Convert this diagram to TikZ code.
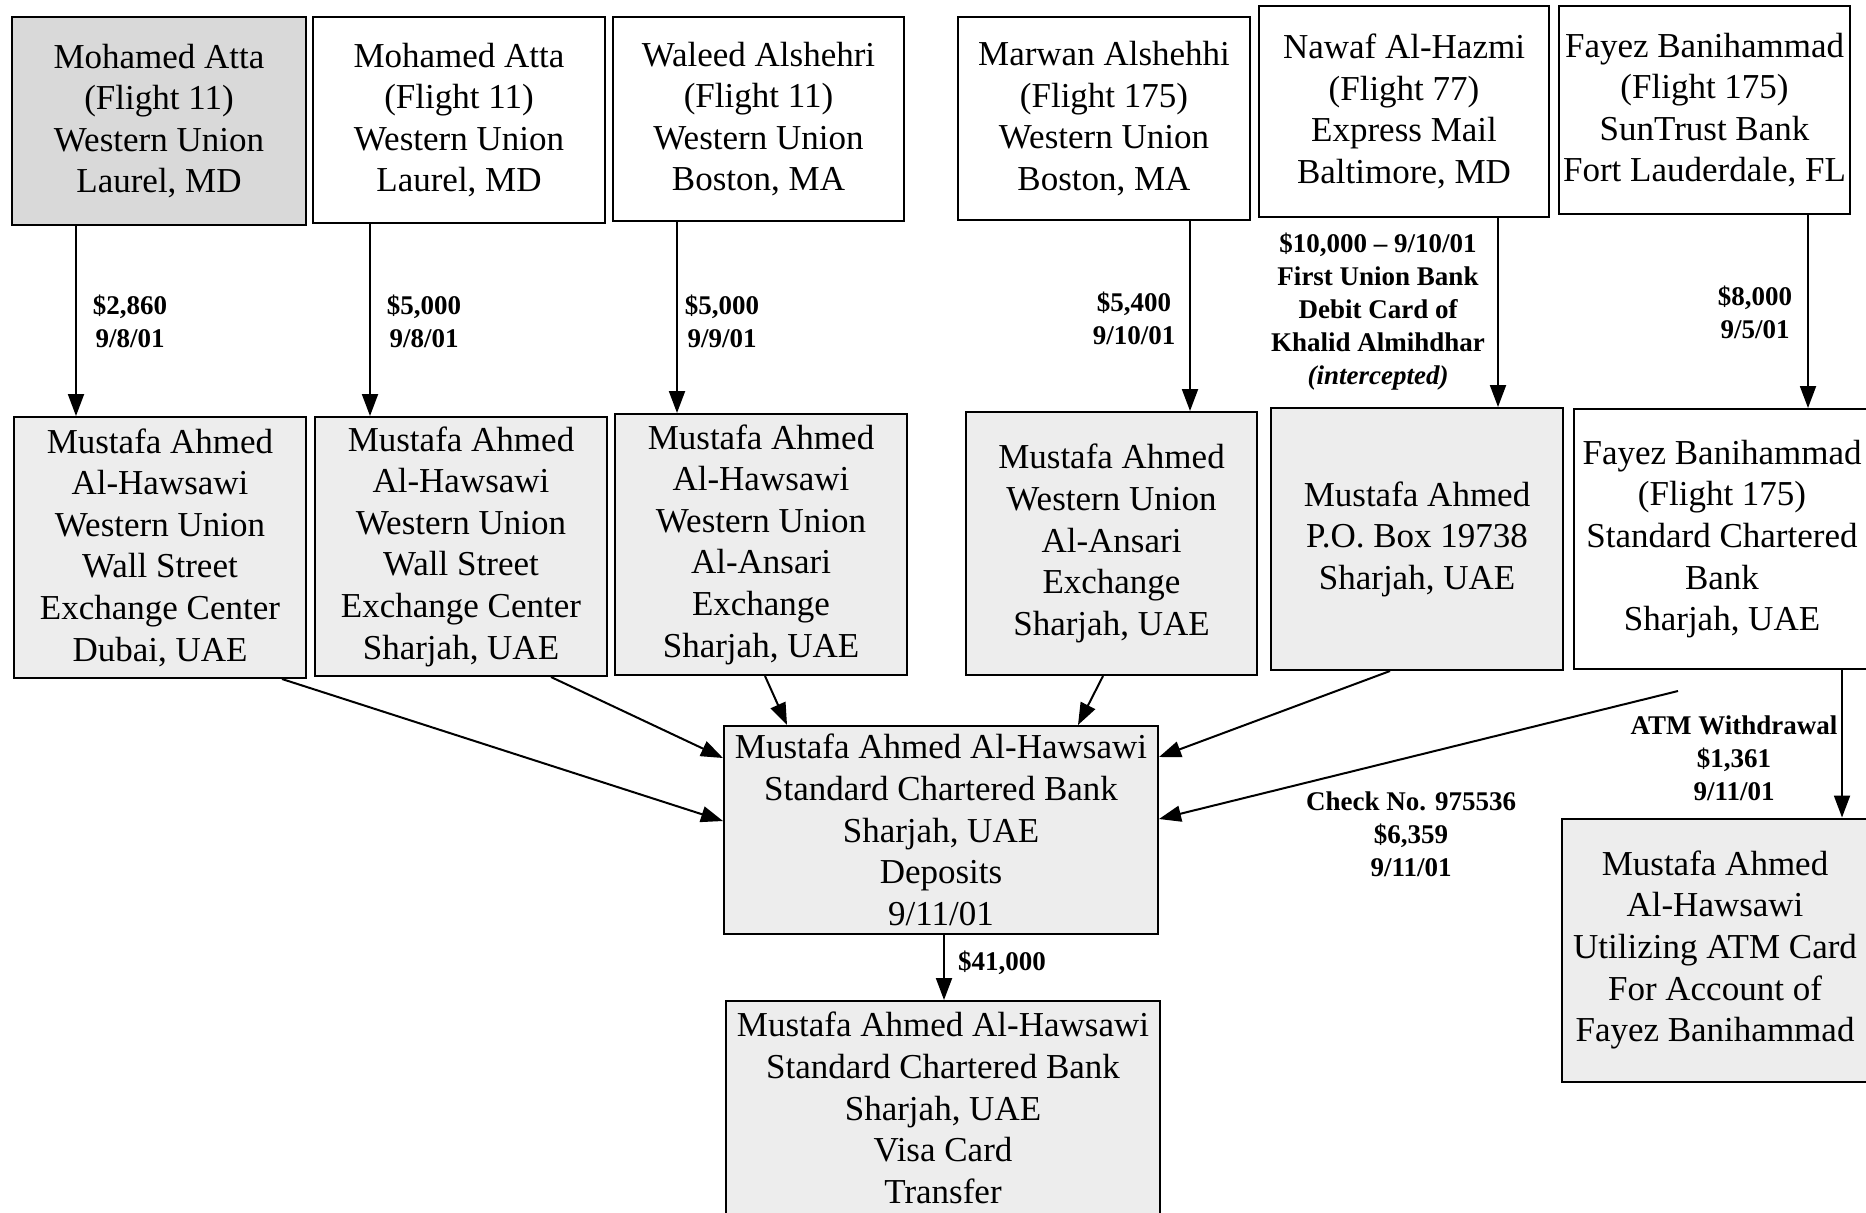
\documentclass[tikz,border=0pt]{standalone}
\usepackage{fontspec}
\setmainfont{Liberation Serif}
\usetikzlibrary{arrows.meta}
\begin{document}
\begin{tikzpicture}[x=0.5pt,y=-0.5pt,
  box/.style={draw,line width=1pt,align=center,inner sep=0pt,font=\fontsize{17.5}{20.8}\selectfont},
  speck/.style={box,fill=gray!14},
  dark/.style={box,fill=gray!30},
  lbl/.style={align=center,inner sep=0pt,font=\fontsize{13.5}{16.5}\selectfont\bfseries},
  flow/.style={line width=1pt,-{Triangle[length=11pt,width=8pt]}}]
\useasboundingbox (0,0) rectangle (1866,1212);
\node[dark,minimum width=147pt,minimum height=104pt] (A1) at (159,121) {Mohamed Atta\\(Flight 11)\\Western Union\\Laurel, MD};
\node[box,minimum width=146pt,minimum height=103pt] (A2) at (459,120) {Mohamed Atta\\(Flight 11)\\Western Union\\Laurel, MD};
\node[box,minimum width=145.5pt,minimum height=102pt] (A3) at (758.5,119) {Waleed Alshehri\\(Flight 11)\\Western Union\\Boston, MA};
\node[box,minimum width=146pt,minimum height=101.5pt] (A4) at (1104,118.5) {Marwan Alshehhi\\(Flight 175)\\Western Union\\Boston, MA};
\node[box,minimum width=145pt,minimum height=105.5pt] (A5) at (1404,111.5) {Nawaf Al-Hazmi\\(Flight 77)\\Express Mail\\Baltimore, MD};
\node[box,minimum width=145.5pt,minimum height=104pt] (A6) at (1704.5,110) {Fayez Banihammad\\(Flight 175)\\SunTrust Bank\\Fort Lauderdale, FL};
\node[speck,minimum width=146pt,minimum height=130.5pt] (B1) at (160,547.5) {Mustafa Ahmed\\Al-Hawsawi\\Western Union\\Wall Street\\Exchange Center\\Dubai, UAE};
\node[speck,minimum width=146pt,minimum height=129.5pt] (B2) at (461,546.5) {Mustafa Ahmed\\Al-Hawsawi\\Western Union\\Wall Street\\Exchange Center\\Sharjah, UAE};
\node[speck,minimum width=146pt,minimum height=130.5pt] (B3) at (761,544.5) {Mustafa Ahmed\\Al-Hawsawi\\Western Union\\Al-Ansari\\Exchange\\Sharjah, UAE};
\node[speck,minimum width=145.5pt,minimum height=131.5pt] (B4) at (1111.5,543.5) {Mustafa Ahmed\\Western Union\\Al-Ansari\\Exchange\\Sharjah, UAE};
\node[speck,minimum width=146pt,minimum height=131pt] (B5) at (1417,539) {Mustafa Ahmed\\P.O. Box 19738\\Sharjah, UAE};
\node[box,minimum width=148pt,minimum height=130pt] (B6) at (1722,539) {Fayez Banihammad\\(Flight 175)\\Standard Chartered\\Bank\\Sharjah, UAE};
\node[speck,minimum width=217pt,minimum height=104pt] (C) at (941,830) {Mustafa Ahmed Al-Hawsawi\\Standard Chartered Bank\\Sharjah, UAE\\Deposits\\9/11/01};
\node[speck,minimum width=217pt,minimum height=107pt] (D) at (943,1108) {Mustafa Ahmed Al-Hawsawi\\Standard Chartered Bank\\Sharjah, UAE\\Visa Card\\Transfer};
\node[speck,minimum width=153pt,minimum height=131.5pt] (E) at (1715,950) {Mustafa Ahmed\\Al-Hawsawi\\Utilizing ATM Card\\For Account of\\Fayez Banihammad};
\node[lbl] (l1) at (130,321) {\$2,860\\9/8/01};
\node[lbl] (l2) at (424,321) {\$5,000\\9/8/01};
\node[lbl] (l3) at (722,321) {\$5,000\\9/9/01};
\node[lbl] (l4) at (1134,318) {\$5,400\\9/10/01};
\node[lbl] (l5) at (1378,312) {\$10,000 \textendash{} 9/10/01\\First Union Bank\\Debit Card of\\Khalid Almihdhar\\\textit{(intercepted)}};
\node[lbl] (l6) at (1755,312) {\$8,000\\9/5/01};
\node[lbl] (l7) at (1734,758) {ATM Withdrawal\\\$1,361\\9/11/01};
\node[lbl] (l8) at (1411,834) {Check No. 975536\\\$6,359\\9/11/01};
\node[lbl] (l9) at (1002,963) {\$41,000};
\foreach \a/\b/\s in {A1/B1/-41.5,A2/B2/-44.5,A3/B3/-40.75,A4/B4/43,A5/B5/47,A6/B6/51.75}
  \draw[flow] ([xshift=\s pt]\a.south) -- ([xshift=\s pt]\a.south |- \b.north);
\draw[flow] ([xshift=61pt]B1.south) -- ([yshift=4.5pt]C.west);
\draw[flow] ([xshift=45pt]B2.south) -- ([yshift=36pt]C.west);
\draw[flow] ([xshift=2pt]B3.south) -- ([xshift=-77pt]C.north);
\draw[flow] ([xshift=-4.25pt]B4.south) -- ([xshift=68.5pt]C.north);
\draw[flow] ([xshift=-13.5pt]B5.south) -- ([yshift=36.5pt]C.east);
\draw[flow] ([xshift=-22pt,yshift=-10.5pt]B6.south) -- ([yshift=5.5pt]C.east);
\draw[flow] ([xshift=1.5pt]C.south) -- ([xshift=1.5pt]C.south |- D.north);
\draw[flow] ([xshift=60pt]B6.south) -- ([xshift=60pt]B6.south |- E.north);
\end{tikzpicture}
\end{document}
